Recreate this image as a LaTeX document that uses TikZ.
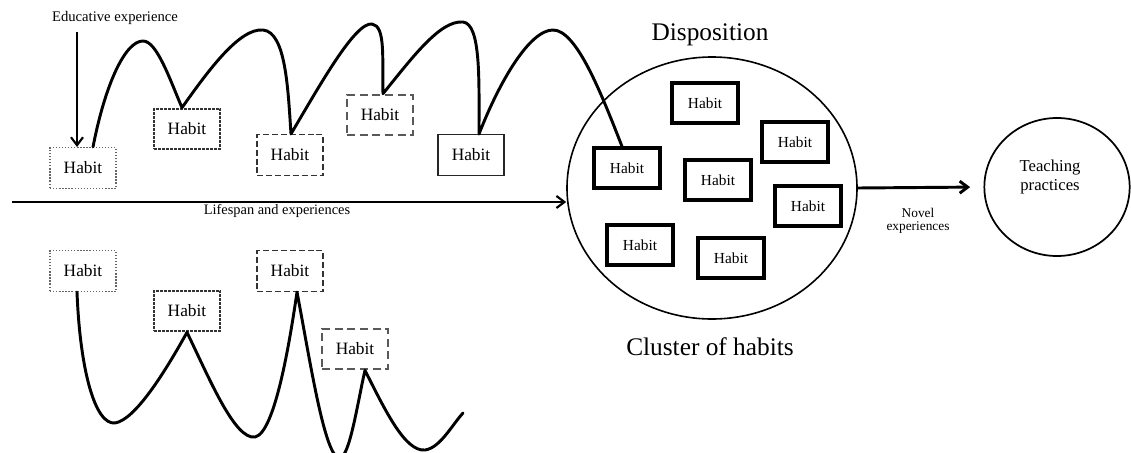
\documentclass[tikz,border=0pt]{standalone}
\usepackage{fontspec}
\setmainfont{Liberation Serif}
\usetikzlibrary{shapes.geometric,arrows.meta,calc}
\begin{document}
\begin{tikzpicture}[x=0.75pt,y=-0.75pt,
 habit/.style={draw, rectangle, minimum width=49.5pt, minimum height=30.5pt, inner sep=0pt, font=\fontsize{13}{13}\selectfont},
 hdot/.style={habit, draw=black!60, line width=1pt, dash pattern=on 1pt off 1.3pt},
 hdense/.style={habit, draw=black!80, line width=1.5pt, dash pattern=on 2.2pt off 0.8pt},
 hdash/.style={habit, draw=black!80, line width=1.2pt, dash pattern=on 4.5pt off 2.2pt},
 hloose/.style={habit, draw=black!65, line width=1.5pt, dash pattern=on 6pt off 3.5pt},
 hsolid/.style={habit, draw=black!85, line width=0.9pt},
 hthick/.style={habit, line width=2.4pt, minimum height=30pt, font=\fontsize{11.5}{11.5}\selectfont},
 curve/.style={line width=2.2pt, line cap=round, line join=round},
 arr/.style={line width=1.6pt, -{Straight Barb[length=6pt,width=9pt]}},
 lbl/.style={inner sep=0pt, align=center}
]
\clip (0,0) rectangle (1131,453);

% labels
\node[lbl, font=\fontsize{11}{11}\selectfont] (edu) at (115,18) {Educative experience};
\node[lbl, font=\fontsize{10.8}{11}\selectfont] (life) at (277,211) {Lifespan and experiences};
\node[lbl, font=\fontsize{19}{19}\selectfont] (dispt) at (710,35) {Disposition};
\node[lbl, font=\fontsize{19}{19}\selectfont] (clus) at (710,347) {Cluster of habits};
\node[lbl, font=\fontsize{10}{10}\selectfont] (novel) at (918,221) {Novel\\experiences};

% big shapes
\node[draw, ellipse, line width=1.2pt, minimum width=217.5pt, minimum height=196.5pt, inner sep=0pt] (disp) at (712,188) {};
\node[draw, ellipse, line width=1.3pt, minimum width=109pt, minimum height=103.5pt, inner sep=0pt] (teach) at (1057,187) {};
\node[lbl, font=\fontsize{12.5}{14}\selectfont] (teacht) at (1050,177) {Teaching\\practices};

% top row habits
\node[hdot]   (h1) at (83,168) {Habit};
\node[hdense] (h2) at (187,129) {Habit};
\node[hdash]  (h3) at (290,155) {Habit};
\node[hloose] (h4) at (380,115) {Habit};
\node[hsolid] (h5) at (471,155) {Habit};

% bottom row habits
\node[hdot]   (b1) at (83,271) {Habit};
\node[hdense] (b2) at (187,311) {Habit};
\node[hdash]  (b3) at (290,271) {Habit};
\node[hloose] (b4) at (355,349) {Habit};

% cluster habits
\node[hthick] (c1) at (627,168) {Habit};
\node[hthick] (c2) at (705,103) {Habit};
\node[hthick] (c3) at (795,142) {Habit};
\node[hthick] (c4) at (718,180) {Habit};
\node[hthick] (c5) at (808,206) {Habit};
\node[hthick] (c6) at (640,245) {Habit};
\node[hthick] (c7) at (731,258) {Habit};

% peaks and troughs
\coordinate (p1) at (143,41);
\coordinate (p2) at (263,30);
\coordinate (p3) at (372,24);
\coordinate (p4) at (463,22);
\coordinate (p5) at (553,30);
\coordinate (t1) at (115,423);
\coordinate (t2) at (255,437);
\coordinate (t3) at (340,458);
\coordinate (t4) at (425,450);
\coordinate (bend) at (463,413);

% top curve
\draw[curve] ($(h1.north)+(10,0)$) .. controls (105,85) and (125,41) .. (p1)
  .. controls (157,41) and (170,80) .. ($(h2.north)+(-5,0)$)
  .. controls (210,68) and (240,28) .. (p2)
  .. controls (286,32) and (288,90) .. ($(h3.north)+(1,0)$)
  .. controls (320,85) and (355,22) .. (p3)
  .. controls (386,26) and (382,60) .. ($(h4.north)+(3,0)$)
  .. controls (412,58) and (440,20) .. (p4)
  .. controls (481,24) and (479,80) .. ($(h5.north)+(8,0)$)
  .. controls (500,80) and (530,30) .. (p5)
  .. controls (576,30) and (600,90) .. ($(c1.north)+(-5,0)$);

% bottom curve
\draw[curve] ($(b1.south)+(-6,0)$) .. controls (80,370) and (95,425) .. (t1)
  .. controls (135,420) and (165,372) .. (b2.south)
  .. controls (210,380) and (235,440) .. (t2)
  .. controls (275,433) and (290,340) .. ($(b3.south)+(7,0)$)
  .. controls (310,360) and (325,460) .. (t3)
  .. controls (350,456) and (358,400) .. ($(b4.south)+(10,0)$)
  .. controls (385,410) and (405,452) .. (t4)
  .. controls (440,448) and (452,425) .. (bend);

% arrows
\coordinate (eduS) at (77,32);
\draw[arr] (eduS) -- ($(h1.north)+(-6,0)$);
\coordinate (lsS) at (12,202);
\draw[arr] (lsS) -- (lsS -| disp.west);
\draw[arr, line width=2.2pt, shorten >=10pt] (disp.east) -- (teach.west);
\end{tikzpicture}
\end{document}
